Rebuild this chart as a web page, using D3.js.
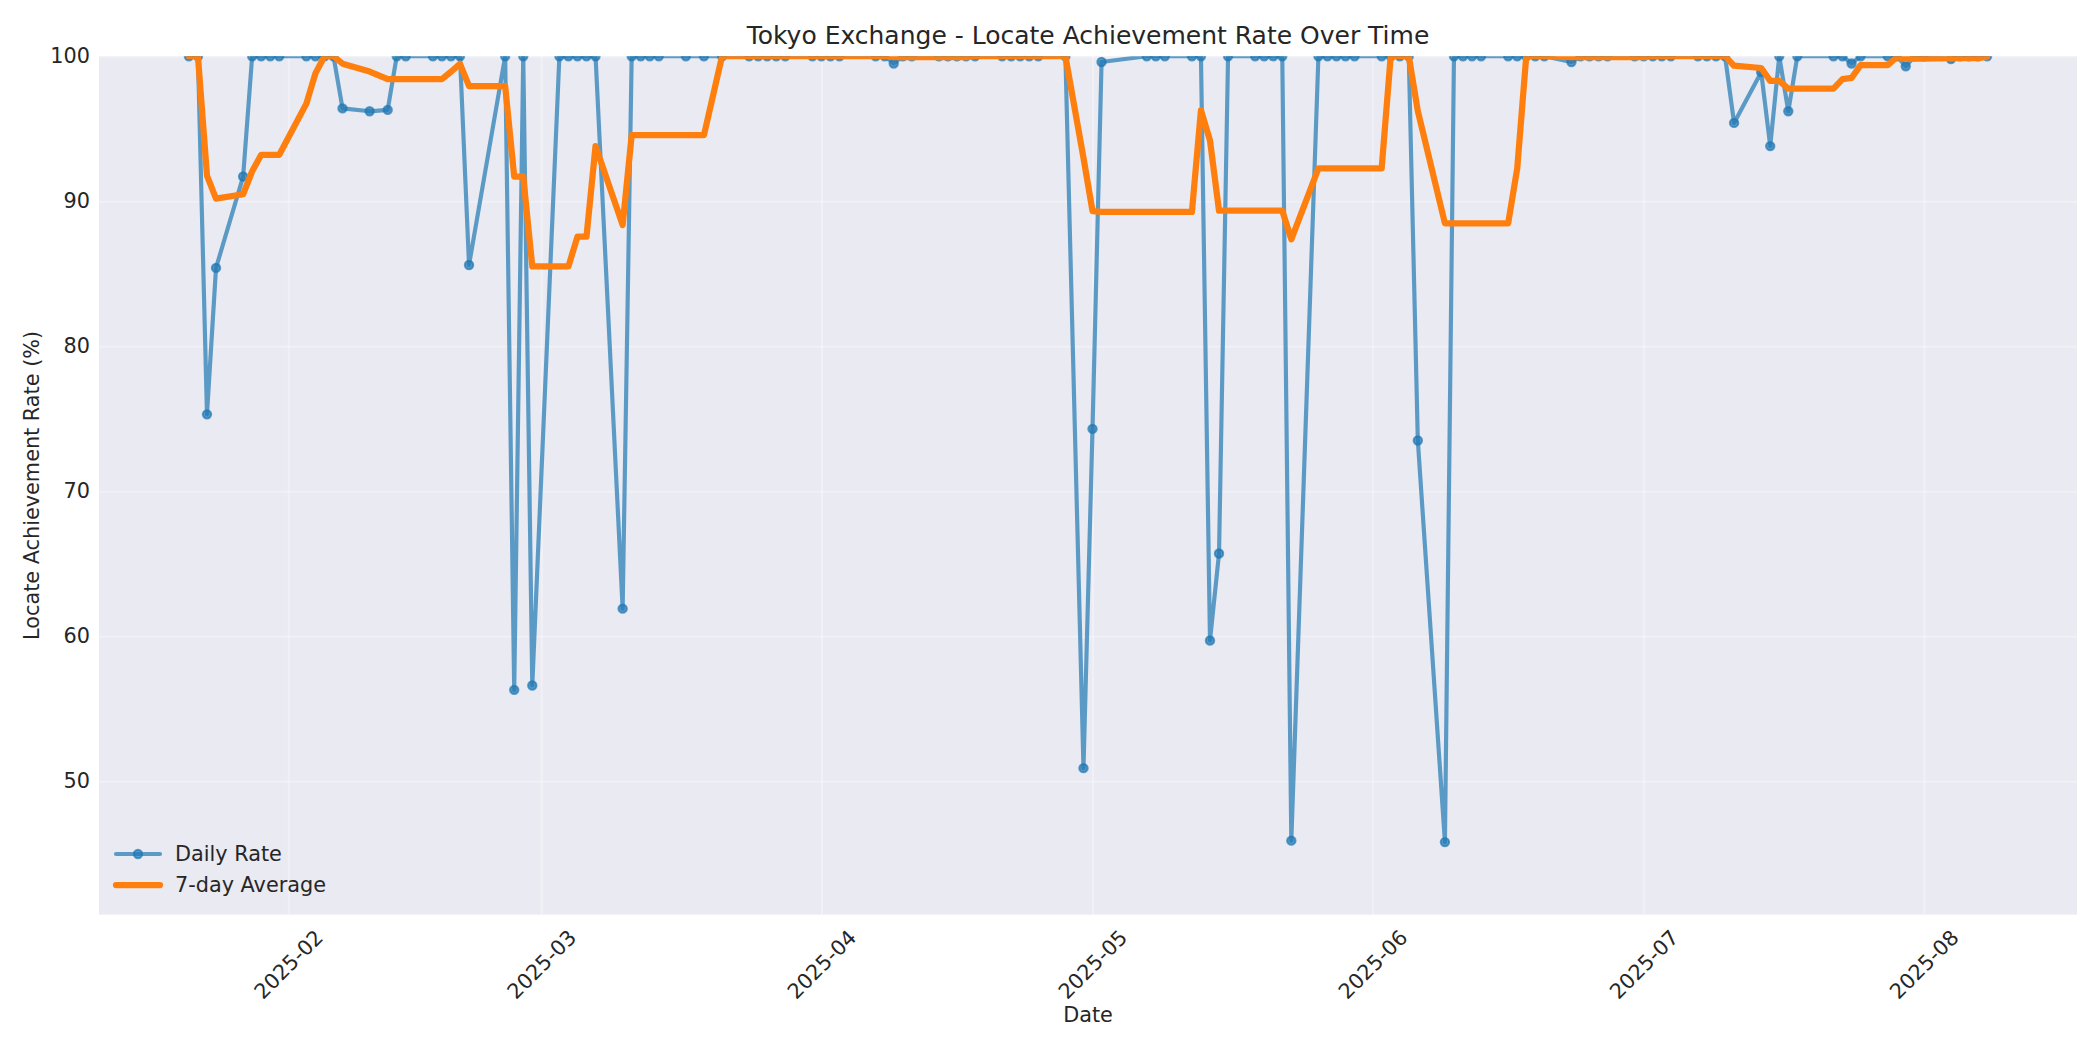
<!DOCTYPE html>
<html>
<head>
<meta charset="utf-8">
<script src="https://cdn.jsdelivr.net/npm/d3@7"></script>
<style>
  body { margin: 0; background: #ffffff; }
  svg { display: block; font-family: "DejaVu Sans", sans-serif; }
</style>
</head>
<body>
<svg id="chart"></svg>
<script>
// Trading days with data (Tokyo calendar, holidays skipped)
const dates = [
  "2025-01-21", "2025-01-22", "2025-01-23", "2025-01-24", "2025-01-27", "2025-01-28", "2025-01-29", "2025-01-30", "2025-01-31",
  "2025-02-03", "2025-02-04", "2025-02-05", "2025-02-06", "2025-02-07", "2025-02-10", "2025-02-12", "2025-02-13", "2025-02-14",
  "2025-02-17", "2025-02-18", "2025-02-19", "2025-02-20", "2025-02-21", "2025-02-25", "2025-02-26", "2025-02-27", "2025-02-28",
  "2025-03-03", "2025-03-04", "2025-03-05", "2025-03-06", "2025-03-07", "2025-03-10", "2025-03-11", "2025-03-12", "2025-03-13",
  "2025-03-14", "2025-03-17", "2025-03-19", "2025-03-21", "2025-03-24", "2025-03-25", "2025-03-26", "2025-03-27", "2025-03-28",
  "2025-03-31", "2025-04-01", "2025-04-02", "2025-04-03", "2025-04-07", "2025-04-08", "2025-04-09", "2025-04-10", "2025-04-11",
  "2025-04-14", "2025-04-15", "2025-04-16", "2025-04-17", "2025-04-18", "2025-04-21", "2025-04-22", "2025-04-23", "2025-04-24",
  "2025-04-25", "2025-04-28", "2025-04-30", "2025-05-01", "2025-05-02", "2025-05-07", "2025-05-08", "2025-05-09", "2025-05-12",
  "2025-05-13", "2025-05-14", "2025-05-15", "2025-05-16", "2025-05-19", "2025-05-20", "2025-05-21", "2025-05-22", "2025-05-23",
  "2025-05-26", "2025-05-27", "2025-05-28", "2025-05-29", "2025-05-30", "2025-06-02", "2025-06-03", "2025-06-04", "2025-06-05",
  "2025-06-06", "2025-06-09", "2025-06-10", "2025-06-11", "2025-06-12", "2025-06-13", "2025-06-16", "2025-06-17", "2025-06-18",
  "2025-06-19", "2025-06-20", "2025-06-23", "2025-06-24", "2025-06-25", "2025-06-26", "2025-06-27", "2025-06-30", "2025-07-01",
  "2025-07-02", "2025-07-03", "2025-07-04", "2025-07-07", "2025-07-08", "2025-07-09", "2025-07-10", "2025-07-11", "2025-07-14",
  "2025-07-15", "2025-07-16", "2025-07-17", "2025-07-18", "2025-07-22", "2025-07-23", "2025-07-24", "2025-07-25", "2025-07-28",
  "2025-07-29", "2025-07-30", "2025-07-31", "2025-08-01", "2025-08-04", "2025-08-05", "2025-08-06", "2025-08-07", "2025-08-08"
];

// Daily locate achievement rate (%), same order as dates
const dailyRate = [
  100, 100, 75.3, 85.4, 91.7, 100, 100, 100, 100,
  100, 100, 100, 100, 96.4, 96.2, 96.3, 100, 100,
  100, 100, 100, 100, 85.6, 100, 56.3, 100, 56.6,
  100, 100, 100, 100, 100, 61.9, 100, 100, 100,
  100, 100, 100, 100, 100, 100, 100, 100, 100,
  100, 100, 100, 100, 100, 100, 99.5, 100, 100,
  100, 100, 100, 100, 100, 100, 100, 100, 100,
  100, 100, 50.9, 74.3, 99.6, 100, 100, 100, 100,
  100, 59.7, 65.7, 100, 100, 100, 100, 100, 45.9,
  100, 100, 100, 100, 100, 100, 100, 100, 100,
  73.5, 45.8, 100, 100, 100, 100, 100, 100, 100,
  100, 100, 99.6, 100, 100, 100, 100, 100, 100,
  100, 100, 100, 100, 100, 100, 100, 95.4, 98.9,
  93.8, 100, 96.2, 100, 100, 100, 99.5, 100, 100,
  100, 99.3, 100, 100, 99.8, 100, 100, 100, 100
];

const monthTicks = ["2025-02-01", "2025-03-01", "2025-04-01", "2025-05-01", "2025-06-01", "2025-07-01", "2025-08-01"];
const yTicks = [50, 60, 70, 80, 90, 100];
const rollWindow = 7; // the orange line is the 7-observation rolling mean of dailyRate

// Set up the SVG container
const svgWidth = 2100;
const svgHeight = 1050;
const svg = d3.select("#chart")
  .attr("width", svgWidth)
  .attr("height", svgHeight);

const plotLeft = 99;
const plotRight = 2077;
const plotTop = 56.2;
const plotBottom = 914.6;
const textColor = "#262626";

const parse = d3.utcParse("%Y-%m-%d");
const daily = dates.map((d, i) => ({ date: parse(d), value: dailyRate[i] }));

// rolling mean, min_periods = 1
const avg = daily.map((d, i) => ({
  date: d.date,
  value: d3.mean(daily.slice(Math.max(0, i - rollWindow + 1), i + 1), e => e.value)
}));

// x domain padded 5% each side like matplotlib
const xExt = d3.extent(daily, d => d.date);
const span = xExt[1] - xExt[0];
const x = d3.scaleUtc()
  .domain([new Date(+xExt[0] - span * 0.05), new Date(+xExt[1] + span * 0.05)])
  .range([plotLeft, plotRight]);

const y = d3.scaleLinear()
  .domain([d3.min(dailyRate) - 5, 100])
  .range([plotBottom, plotTop]);

// Axes background
svg.append("rect")
  .attr("x", plotLeft)
  .attr("y", plotTop)
  .attr("width", plotRight - plotLeft)
  .attr("height", plotBottom - plotTop)
  .attr("fill", "#eaeaf2");

// Grid lines
const xTickDates = monthTicks.map(parse);
svg.append("g")
  .attr("transform", `translate(0,${plotBottom})`)
  .call(d3.axisBottom(x).tickValues(xTickDates).tickSize(-(plotBottom - plotTop)).tickFormat(""))
  .call(g => g.select(".domain").remove())
  .call(g => g.selectAll("line").attr("stroke", "#ffffff").attr("stroke-opacity", 0.3).attr("stroke-width", 2));

svg.append("g")
  .attr("transform", `translate(${plotLeft},0)`)
  .call(d3.axisLeft(y).tickValues(yTicks).tickSize(-(plotRight - plotLeft)).tickFormat(""))
  .call(g => g.select(".domain").remove())
  .call(g => g.selectAll("line").attr("stroke", "#ffffff").attr("stroke-opacity", 0.3).attr("stroke-width", 2));

// Clip to the axes area
svg.append("clipPath")
  .attr("id", "plotClip")
  .append("rect")
  .attr("x", plotLeft)
  .attr("y", plotTop)
  .attr("width", plotRight - plotLeft)
  .attr("height", plotBottom - plotTop);

const plot = svg.append("g").attr("clip-path", "url(#plotClip)");

const line = d3.line()
  .x(d => x(d.date))
  .y(d => y(d.value));

const blue = "#1f77b4";
const orange = "#ff7f0e";

// Daily rate line + markers (alpha 0.7)
plot.append("path")
  .datum(daily)
  .attr("d", line)
  .attr("fill", "none")
  .attr("stroke", blue)
  .attr("stroke-opacity", 0.7)
  .attr("stroke-width", 4.17)
  .attr("stroke-linejoin", "round")
  .attr("stroke-linecap", "round");

plot.selectAll(".dot")
  .data(daily)
  .enter()
  .append("circle")
  .attr("class", "dot")
  .attr("cx", d => x(d.date))
  .attr("cy", d => y(d.value))
  .attr("r", 4.17)
  .attr("fill", blue)
  .attr("fill-opacity", 0.7)
  .attr("stroke", blue)
  .attr("stroke-opacity", 0.7)
  .attr("stroke-width", 2.08);

// 7-day average line
plot.append("path")
  .datum(avg)
  .attr("d", line)
  .attr("fill", "none")
  .attr("stroke", orange)
  .attr("stroke-width", 6.25)
  .attr("stroke-linejoin", "round")
  .attr("stroke-linecap", "round");

// Y tick labels
svg.append("g")
  .attr("transform", `translate(${plotLeft},0)`)
  .call(d3.axisLeft(y).tickValues(yTicks).tickSize(0).tickPadding(9))
  .call(g => g.select(".domain").remove())
  .call(g => g.selectAll("text")
    .attr("fill", textColor)
    .attr("font-size", 20.8)
    .attr("font-family", "DejaVu Sans"));

// X tick labels, rotated 45 degrees, centred on the tick
svg.append("g")
  .attr("transform", `translate(0,${plotBottom})`)
  .call(d3.axisBottom(x).tickValues(xTickDates).tickSize(0).tickFormat(d3.utcFormat("%Y-%m")))
  .call(g => g.select(".domain").remove())
  .call(g => g.selectAll("text")
    .attr("fill", textColor)
    .attr("font-size", 20.8)
    .attr("font-family", "DejaVu Sans")
    .attr("y", 0)
    .attr("dy", null)
    .attr("text-anchor", "middle")
    .attr("dominant-baseline", "central")
    .attr("transform", "translate(0,50) rotate(-45)"));

// Title and axis labels
svg.append("text")
  .attr("x", (plotLeft + plotRight) / 2)
  .attr("y", 44)
  .attr("text-anchor", "middle")
  .attr("font-size", 25)
  .attr("fill", textColor)
  .text("Tokyo Exchange - Locate Achievement Rate Over Time");

svg.append("text")
  .attr("x", (plotLeft + plotRight) / 2)
  .attr("y", 1015)
  .attr("text-anchor", "middle")
  .attr("dominant-baseline", "central")
  .attr("font-size", 20.8)
  .attr("fill", textColor)
  .text("Date");

svg.append("text")
  .attr("transform", `translate(32,${(plotTop + plotBottom) / 2}) rotate(-90)`)
  .attr("text-anchor", "middle")
  .attr("dominant-baseline", "central")
  .attr("font-size", 20.8)
  .attr("fill", textColor)
  .text("Locate Achievement Rate (%)");

// Legend, lower left, no frame
const legendItems = [
  { label: "Daily Rate", color: blue, width: 4.17, opacity: 0.7, marker: true },
  { label: "7-day Average", color: orange, width: 6.25, opacity: 1, marker: false }
];

const legend = svg.selectAll(".legend-item")
  .data(legendItems)
  .enter()
  .append("g")
  .attr("class", "legend-item")
  .attr("transform", (d, i) => `translate(116, ${854 + i * 31})`);

legend.append("line")
  .attr("x1", 0)
  .attr("x2", 44)
  .attr("y1", 0)
  .attr("y2", 0)
  .attr("stroke", d => d.color)
  .attr("stroke-width", d => d.width)
  .attr("stroke-opacity", d => d.opacity)
  .attr("stroke-linecap", "round");

legend.filter(d => d.marker)
  .append("circle")
  .attr("cx", 22)
  .attr("cy", 0)
  .attr("r", 4.17)
  .attr("fill", blue)
  .attr("fill-opacity", 0.7)
  .attr("stroke", blue)
  .attr("stroke-opacity", 0.7)
  .attr("stroke-width", 2.08);

legend.append("text")
  .attr("x", 59)
  .attr("y", 0)
  .attr("dominant-baseline", "central")
  .attr("font-size", 20.8)
  .attr("fill", textColor)
  .text(d => d.label);
</script>
</body>
</html>
